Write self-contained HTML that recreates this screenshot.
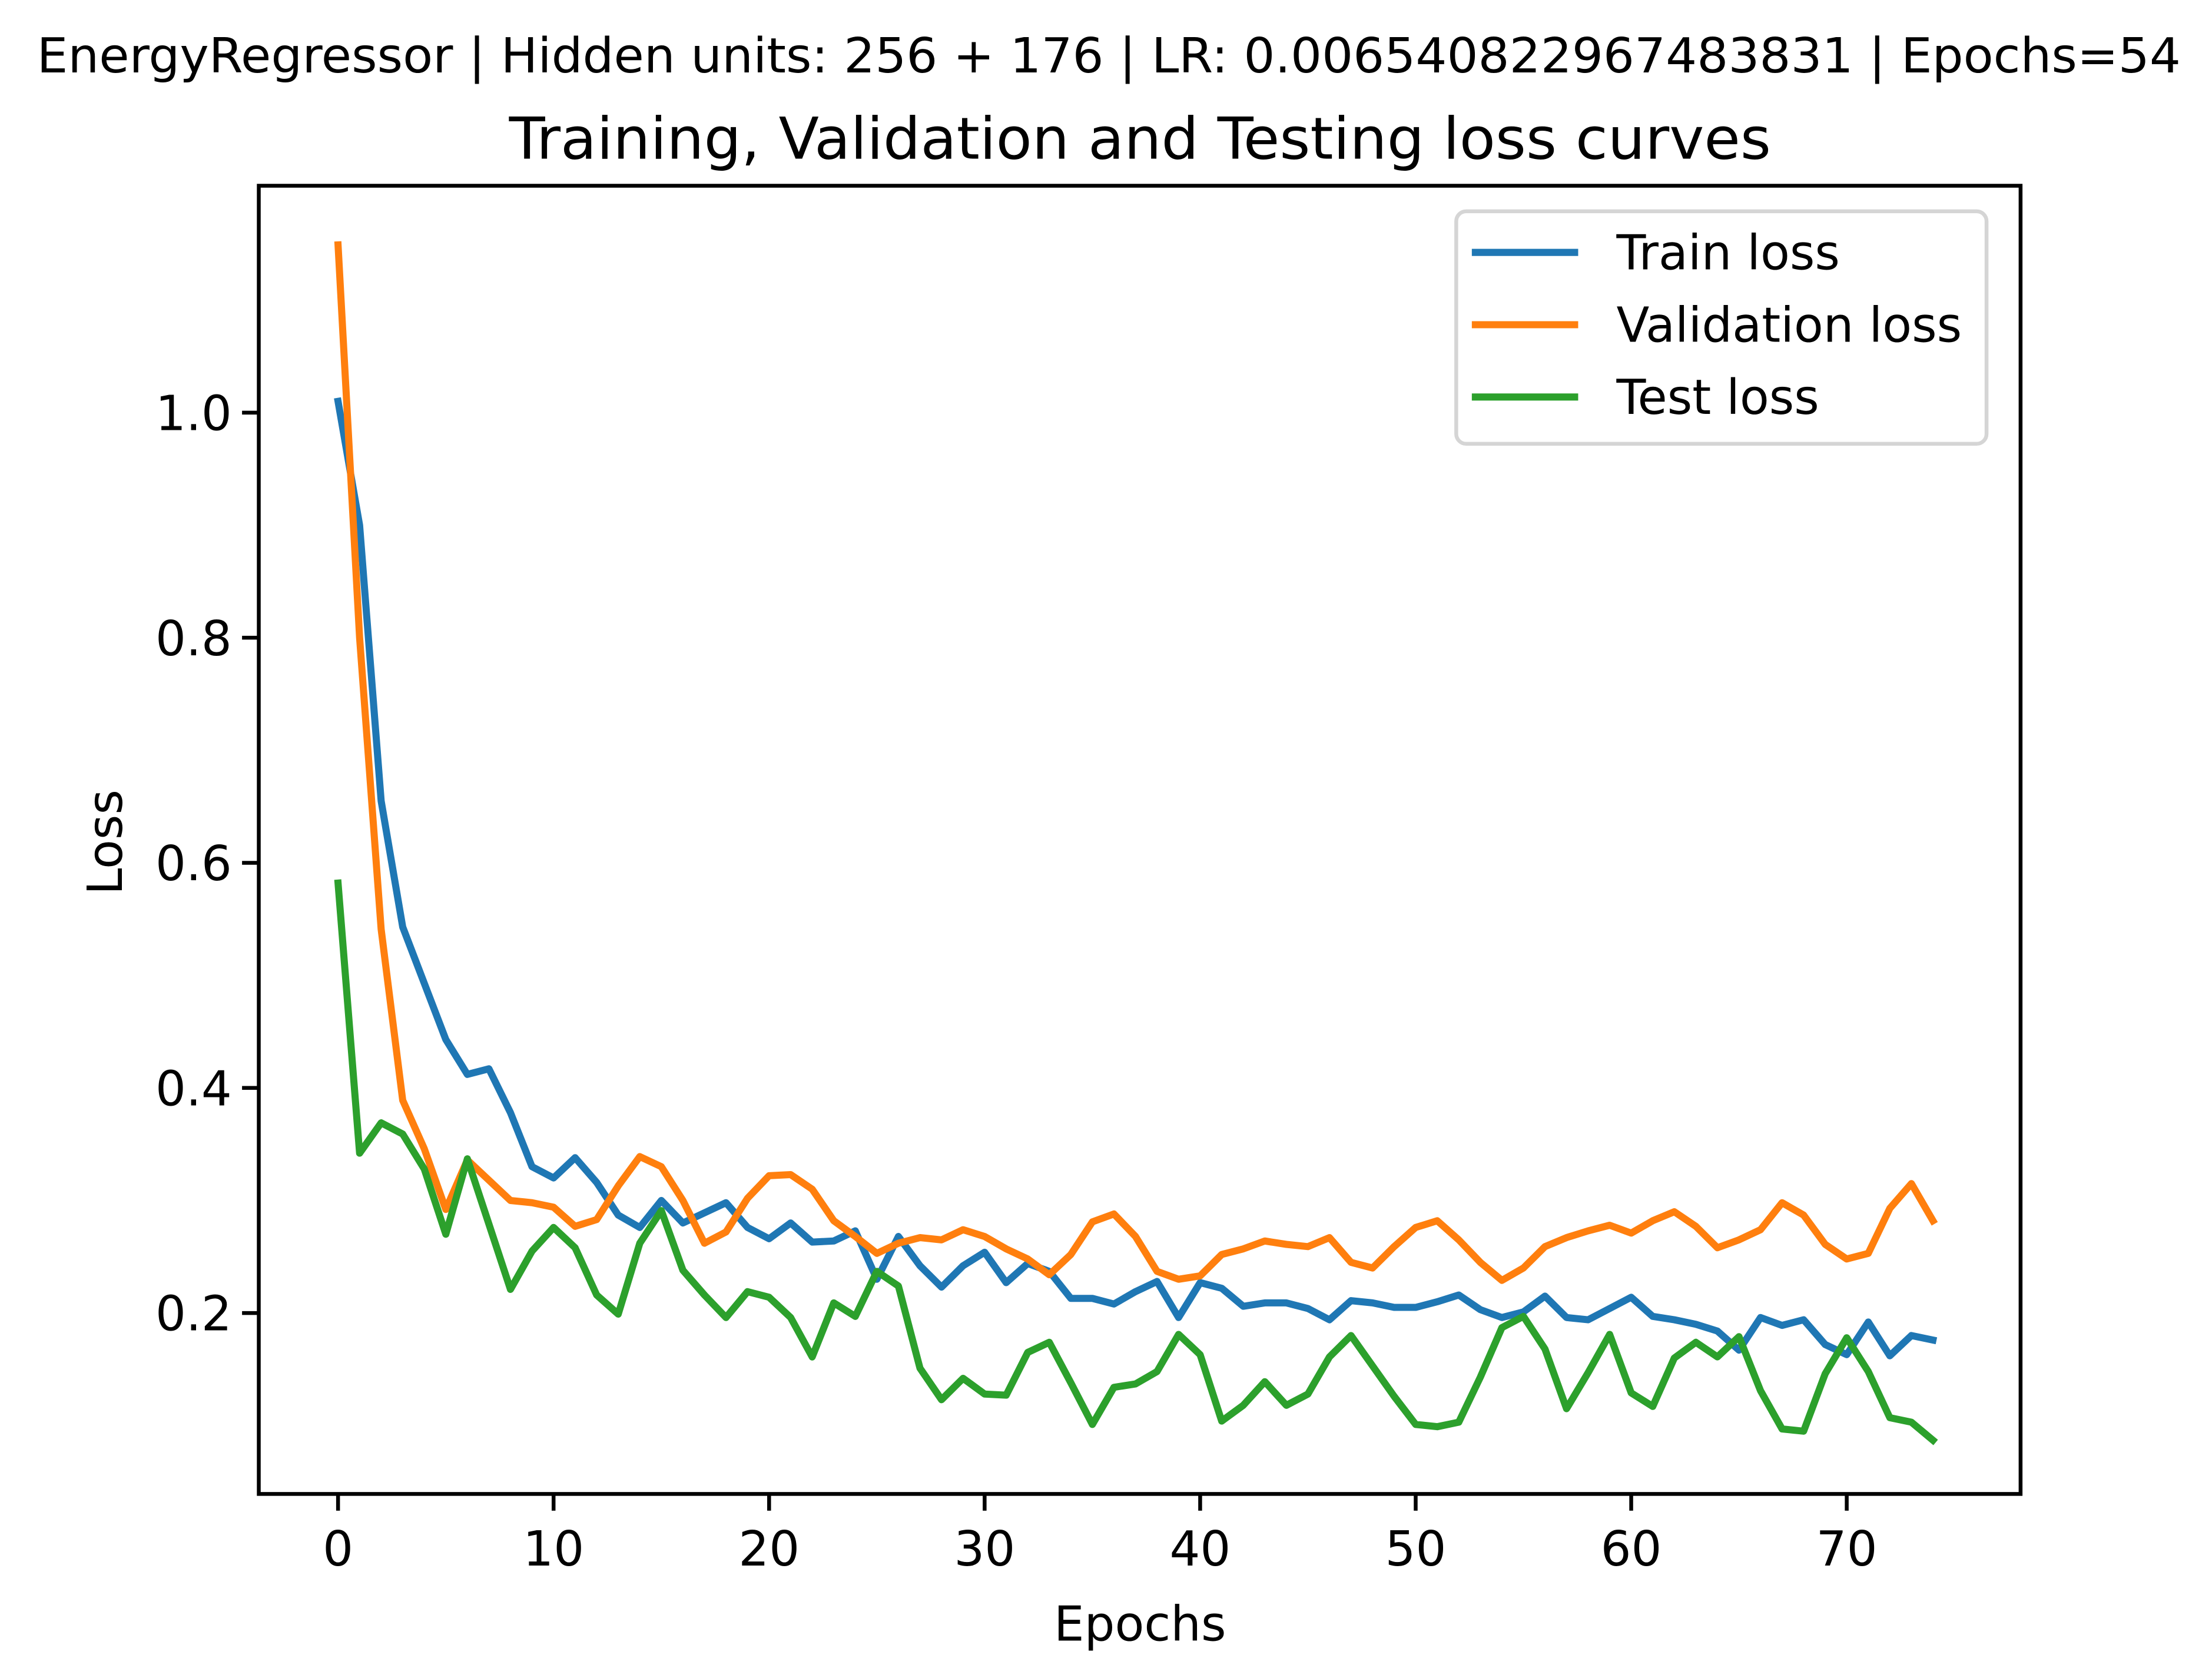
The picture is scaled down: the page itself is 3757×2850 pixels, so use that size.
<!DOCTYPE html>
<html><head><meta charset="utf-8">
<style>html,body{margin:0;padding:0;background:#fff;}svg{display:block;}text{font-family:"DejaVu Sans","Liberation Sans",sans-serif;fill:#000;}</style>
</head><body>
<svg id="chart" width="3757" height="2850" viewBox="0 0 1560 1183.4" xmlns="http://www.w3.org/2000/svg">
<rect x="0" y="0" width="1560" height="1183.4" fill="#fff"/>
<text x="782" y="51" font-size="33.9" text-anchor="middle" textLength="1512" lengthAdjust="spacingAndGlyphs">EnergyRegressor | Hidden units: 256 + 176 | LR: 0.006540822967483831 | Epochs=54</text>
<text x="804" y="112" font-size="40.6" text-anchor="middle" textLength="890" lengthAdjust="spacingAndGlyphs">Training, Validation and Testing loss curves</text>
<g id="plot"></g>
<g id="axes"></g>
<text x="804" y="1157" font-size="33.9" text-anchor="middle">Epochs</text>
<text transform="translate(86,594) rotate(-90)" font-size="33.9" text-anchor="middle">Loss</text>
<g>
<rect x="1027" y="149" width="374" height="164" rx="7" fill="#fff" fill-opacity="0.8" stroke="#d5d5d5" stroke-width="2.7"/>
<line x1="1038" y1="178" x2="1113" y2="178" stroke="#1f77b4" stroke-width="5"/>
<text x="1140" y="190" font-size="33.9">Train loss</text>
<line x1="1038" y1="229" x2="1113" y2="229" stroke="#ff7f0e" stroke-width="5"/>
<text x="1140" y="241" font-size="33.9">Validation loss</text>
<line x1="1038" y1="280" x2="1113" y2="280" stroke="#2ca02c" stroke-width="5"/>
<text x="1140" y="292" font-size="33.9">Test loss</text>
</g>
</svg>
<script>
const trainLoss=[1.01,0.90,0.655,0.543,0.493,0.443,0.412,0.417,0.378,0.33,0.32,0.338,0.316,0.287,0.276,0.30,0.28,0.289,0.298,0.276,0.266,0.28,0.263,0.264,0.273,0.23,0.268,0.242,0.223,0.242,0.254,0.227,0.244,0.237,0.213,0.213,0.208,0.219,0.228,0.196,0.227,0.222,0.206,0.209,0.209,0.204,0.194,0.211,0.209,0.205,0.205,0.21,0.216,0.203,0.196,0.201,0.215,0.196,0.194,0.204,0.214,0.197,0.194,0.19,0.184,0.167,0.196,0.189,0.194,0.172,0.163,0.192,0.162,0.18,0.176];
const valLoss=[1.149,0.80,0.541,0.389,0.346,0.292,0.336,0.318,0.30,0.298,0.294,0.277,0.283,0.313,0.339,0.33,0.30,0.262,0.272,0.302,0.322,0.323,0.31,0.282,0.268,0.253,0.262,0.267,0.265,0.274,0.268,0.257,0.248,0.234,0.252,0.281,0.288,0.268,0.237,0.23,0.233,0.252,0.257,0.264,0.261,0.259,0.267,0.245,0.24,0.259,0.276,0.282,0.265,0.245,0.229,0.24,0.259,0.267,0.273,0.278,0.271,0.282,0.29,0.277,0.258,0.265,0.274,0.298,0.287,0.261,0.248,0.253,0.293,0.315,0.282];
const testLoss=[0.582,0.342,0.369,0.359,0.328,0.27,0.337,0.279,0.221,0.255,0.276,0.258,0.216,0.199,0.262,0.291,0.238,0.216,0.196,0.219,0.214,0.196,0.161,0.209,0.197,0.237,0.224,0.151,0.123,0.142,0.128,0.127,0.165,0.174,0.138,0.101,0.134,0.137,0.148,0.181,0.163,0.104,0.118,0.139,0.118,0.128,0.161,0.18,0.153,0.126,0.101,0.099,0.103,0.143,0.187,0.197,0.168,0.115,0.147,0.181,0.129,0.117,0.16,0.174,0.161,0.179,0.131,0.097,0.095,0.146,0.178,0.148,0.107,0.103,0.087];
const xTicks=[0,10,20,30,40,50,60,70];
const yTicks=[0.2,0.4,0.6,0.8,1.0];
const yTickLabels=["0.2","0.4","0.6","0.8","1.0"];

const NS="http://www.w3.org/2000/svg";
const L=182.5,R=1425,T=131,B=1053.6;
const X0=238.4,XS=15.2;
function xs(v){return X0+v*XS;}
function ys(v){return 291+(1.0-v)*793.75;}
function mk(tag,attrs,parent){const e=document.createElementNS(NS,tag);for(const k in attrs)e.setAttribute(k,attrs[k]);parent.appendChild(e);return e;}
const plot=document.getElementById('plot');
const axes=document.getElementById('axes');
const series=[[trainLoss,'#1f77b4','train-loss-line'],[valLoss,'#ff7f0e','validation-loss-line'],[testLoss,'#2ca02c','test-loss-line']];
series.forEach(s=>{
  const d=s[0].map((v,i)=>(i?'L':'M')+xs(i).toFixed(2)+','+ys(v).toFixed(2)).join(' ');
  const p=mk('path',{d:d,fill:'none',stroke:s[1],'stroke-width':5,'stroke-linejoin':'round','stroke-linecap':'square'},plot);
  
  
});
const frame=mk('rect',{x:L,y:T,width:R-L,height:B-T,fill:'none',stroke:'#000','stroke-width':2.7},axes);


xTicks.forEach(v=>{
  const t=mk('line',{x1:xs(v),y1:B,x2:xs(v),y2:B+11.8,stroke:'#000','stroke-width':2.7},axes);
  
  
  const lb=mk('text',{x:xs(v),y:1104,'font-size':33.9,'text-anchor':'middle'},axes);
  lb.textContent=String(v);
  
  
});
yTicks.forEach((v,i)=>{
  const t=mk('line',{x1:L-11.8,y1:ys(v),x2:L,y2:ys(v),stroke:'#000','stroke-width':2.7},axes);
  
  
  const lb=mk('text',{x:L-19,y:ys(v)+12.3,'font-size':33.9,'text-anchor':'end'},axes);
  lb.textContent=yTickLabels[i];
  
  
});
</script>
</body></html>
